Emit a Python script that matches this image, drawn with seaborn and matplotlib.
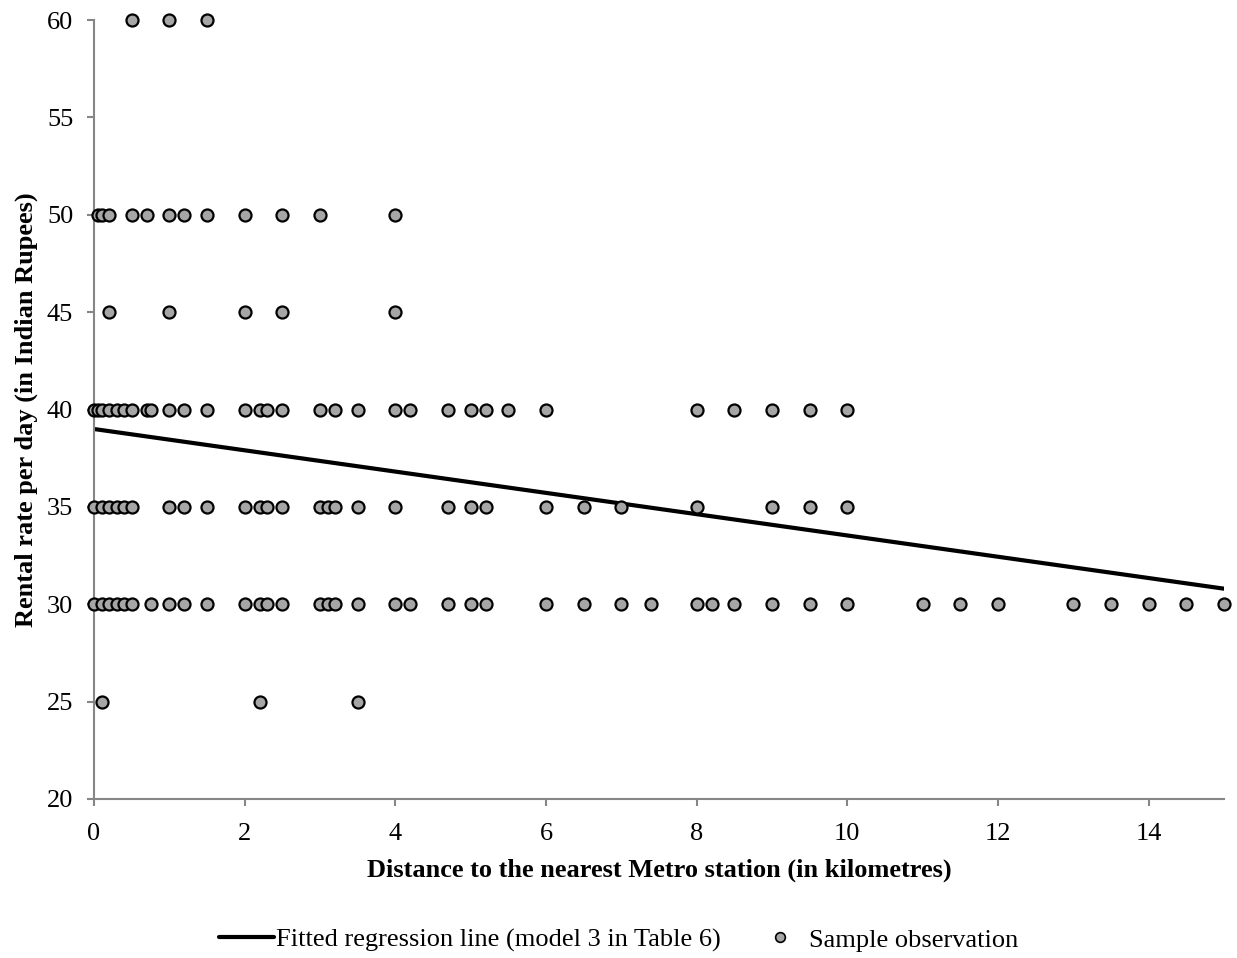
"""Rental rate vs distance to the nearest Metro station, with fitted line."""

import matplotlib

matplotlib.use("Agg")

import pandas as pd
import seaborn as sns
from matplotlib import pyplot as plt
from matplotlib.lines import Line2D

# observed distances (km) grouped by rental rate (Rs per day)
dist_60 = [0.5, 1.0, 1.5]
dist_50 = [0.05, 0.1, 0.2, 0.5, 0.7, 1.0, 1.2, 1.5, 2.0, 2.5, 3.0, 4.0]
dist_45 = [0.2, 1.0, 2.0, 2.5, 4.0]
dist_40 = [0.0, 0.05, 0.1, 0.2, 0.3, 0.4, 0.5, 0.7, 0.75, 1.0, 1.2, 1.5,
           2.0, 2.2, 2.3, 2.5, 3.0, 3.2, 3.5, 4.0, 4.2, 4.7, 5.0, 5.2,
           5.5, 6.0, 8.0, 8.5, 9.0, 9.5, 10.0]
dist_35 = [0.0, 0.1, 0.2, 0.3, 0.4, 0.5, 1.0, 1.2, 1.5, 2.0, 2.2, 2.3,
           2.5, 3.0, 3.1, 3.2, 3.5, 4.0, 4.7, 5.0, 5.2, 6.0, 6.5, 7.0,
           8.0, 9.0, 9.5, 10.0]
dist_30 = [0.0, 0.1, 0.2, 0.3, 0.4, 0.5, 0.75, 1.0, 1.2, 1.5, 2.0, 2.2,
           2.3, 2.5, 3.0, 3.1, 3.2, 3.5, 4.0, 4.2, 4.7, 5.0, 5.2, 6.0,
           6.5, 7.0, 7.4, 8.0, 8.2, 8.5, 9.0, 9.5, 10.0, 11.0, 11.5,
           12.0, 13.0, 13.5, 14.0, 14.5, 15.0]
dist_25 = [0.1, 2.2, 3.5]

rates = [60, 50, 45, 40, 35, 30, 25]
groups = [dist_60, dist_50, dist_45, dist_40, dist_35, dist_30, dist_25]

# fitted regression line (model 3 in Table 6), read at the ends of the axis
fit_x = [0, 15]
fit_y = [39.0, 30.8]

x_ticks = [0, 2, 4, 6, 8, 10, 12, 14]
y_ticks = [20, 25, 30, 35, 40, 45, 50, 55, 60]

obs = pd.DataFrame(
    [(d, r) for r, g in zip(rates, groups) for d in g],
    columns=["distance", "rate"],
)
fit = pd.DataFrame({"distance": fit_x, "rate": fit_y})

sns.set_style("white")
plt.rcParams["font.family"] = ["Liberation Serif", "DejaVu Serif"]
plt.rcParams["text.color"] = "black"
plt.rcParams["xtick.labelcolor"] = "black"
plt.rcParams["ytick.labelcolor"] = "black"
plt.rcParams["axes.labelcolor"] = "black"

fig = plt.figure(figsize=(12.37, 9.58), dpi=100)
ax = fig.add_axes([0.076, 0.166, 0.9135, 0.813])

sns.lineplot(data=fit, x="distance", y="rate", color="black", linewidth=3, ax=ax, zorder=2)
sns.scatterplot(data=obs, x="distance", y="rate", color="#a6a6a6", edgecolor="black",
                linewidth=1.6, s=75, ax=ax, zorder=3, clip_on=False)

ax.set_xlim(0, 15)
ax.set_ylim(20, 60)
ax.set_xticks(x_ticks)
ax.set_yticks(y_ticks)
ax.tick_params(axis="both", labelsize=19, direction="out", length=5, width=1.5,
               color="#868686", bottom=True, left=True)
ax.tick_params(axis="x", pad=12)
ax.tick_params(axis="y", pad=10)
for side in ["top", "right"]:
    ax.spines[side].set_visible(False)
for side in ["left", "bottom"]:
    ax.spines[side].set_color("#868686")
    ax.spines[side].set_linewidth(1.5)

ax.set_xlabel("Distance to the nearest Metro station (in kilometres)", fontsize=19,
              fontweight="bold", labelpad=10)
ax.set_ylabel("Rental rate per day (in Indian Rupees)", fontsize=19,
              fontweight="bold", labelpad=6)

handles = [
    Line2D([], [], color="black", linewidth=3),
    Line2D([], [], linestyle="none", marker="o", markersize=7,
           markerfacecolor="#a6a6a6", markeredgecolor="black", markeredgewidth=1.2),
]
fig.legend(handles, ["Fitted regression line (model 3 in Table 6)", "Sample observation"],
           loc="center", bbox_to_anchor=(0.5, 1 - 940 / 958), ncol=2, frameon=False,
           fontsize=19, handlelength=2.1, handletextpad=0.05, columnspacing=1.2)

plt.savefig("out.png", dpi=100)
plt.close()
